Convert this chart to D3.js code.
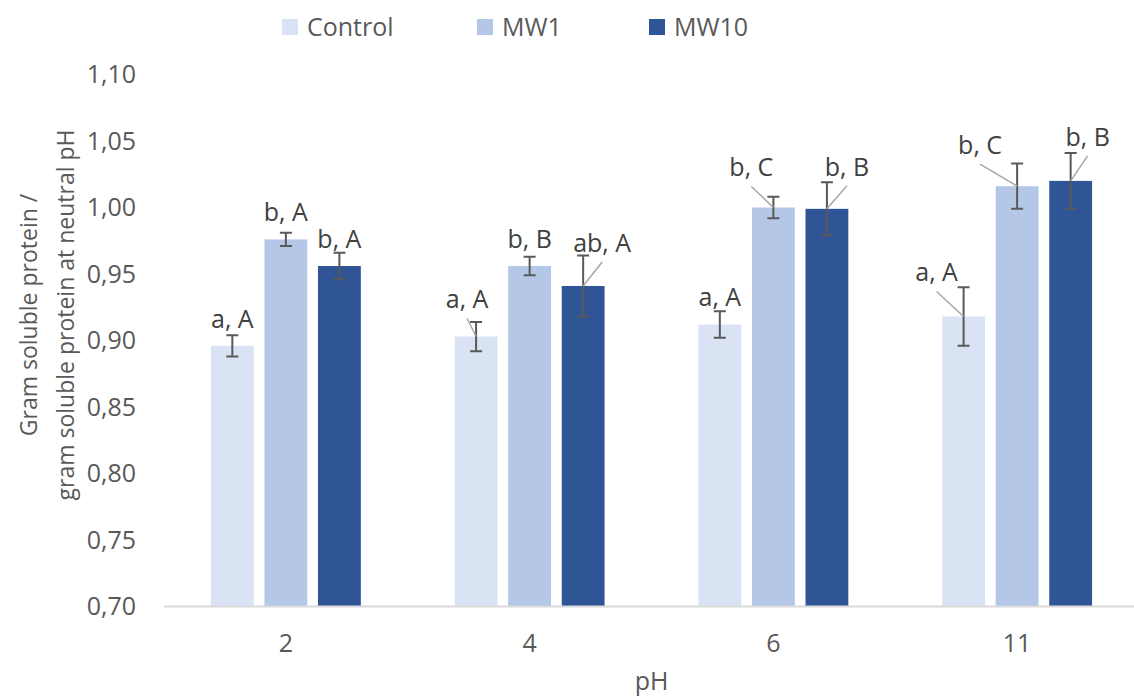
<!DOCTYPE html>
<html>
<head>
<meta charset="utf-8">
<script src="https://cdn.jsdelivr.net/npm/d3@7"></script>
<style>
    body { margin: 0; background: #ffffff; }
    svg { display: block; font-family: 'Open Sans', sans-serif; }
</style>
</head>
<body>
<svg></svg>
<script>
// Chart data
let categories = ['2', '4', '6', '11'];
let seriesNames = ['Control', 'MW1', 'MW10'];
let controlValues = [0.896, 0.903, 0.912, 0.918];
let mw1Values = [0.976, 0.956, 1.000, 1.016];
let mw10Values = [0.956, 0.941, 0.999, 1.020];
let controlErrors = [0.008, 0.011, 0.010, 0.022];
let mw1Errors = [0.005, 0.007, 0.008, 0.017];
let mw10Errors = [0.010, 0.023, 0.020, 0.021];
let controlLabels = ['a, A', 'a, A', 'a, A', 'a, A'];
let mw1Labels = ['b, A', 'b, B', 'b, C', 'b, C'];
let mw10Labels = ['b, A', 'ab, A', 'b, B', 'b, B'];
let yTicks = [0.70, 0.75, 0.80, 0.85, 0.90, 0.95, 1.00, 1.05, 1.10];

let colors = ['#dae3f3', '#b4c7e7', '#2f5597'];

// label nudges (px) for labels that were dragged away from their bar
let labelNudge = [
    [[0, 0], [0, 0], [0, 0]],
    [[-9, -10], [0, 0], [19, -16]],
    [[0, 0], [-22, -13], [20, -15]],
    [[-27, -17], [-37, -14], [17, -17]]
];

let width = 1134;
let height = 697;
let plotLeft = 164;
let plotRight = 1139;
let plotTop = 74.5;
let plotBottom = 606.5;

let svg = d3.select('svg')
    .attr('width', width)
    .attr('height', height);

let values = [controlValues, mw1Values, mw10Values];
let errors = [controlErrors, mw1Errors, mw10Errors];
let labels = [controlLabels, mw1Labels, mw10Labels];

// one record per bar
let rows = [];
categories.forEach((cat, i) => {
    seriesNames.forEach((name, s) => {
        rows.push({
            cat: cat,
            series: name,
            s: s,
            i: i,
            value: values[s][i],
            err: errors[s][i],
            label: labels[s][i],
            nudge: labelNudge[i][s]
        });
    });
});

// scales
let x0 = d3.scaleBand()
    .domain(categories)
    .range([plotLeft, plotRight])
    .paddingInner(0.385)
    .paddingOuter(0.1925);

let x1 = d3.scaleBand()
    .domain(seriesNames)
    .range([0, x0.bandwidth()])
    .paddingInner(0.2);

let y = d3.scaleLinear()
    .domain([0.70, 1.10])
    .range([plotBottom, plotTop]);

let barCenter = (d) => x0(d.cat) + x1(d.series) + x1.bandwidth() / 2;

// bars
svg.append('g')
    .selectAll('rect')
    .data(rows)
    .enter()
    .append('rect')
    .attr('x', (d) => x0(d.cat) + x1(d.series))
    .attr('y', (d) => y(d.value))
    .attr('width', x1.bandwidth())
    .attr('height', (d) => y(0.70) - y(d.value))
    .attr('fill', (d) => colors[d.s]);

// x axis line
let xAxis = d3.axisBottom(x0).tickSize(0).tickPadding(28);
let gx = svg.append('g')
    .attr('transform', `translate(0, ${plotBottom})`)
    .call(xAxis);
gx.select('.domain')
    .attr('d', `M${plotLeft},0H${width}`)
    .attr('stroke', '#d9d9d9')
    .attr('stroke-width', 2);
gx.selectAll('text')
    .attr('font-size', 25)
    .attr('fill', '#595959')
    .attr('font-family', "'Open Sans', sans-serif");

// y axis, labels only
let yAxis = d3.axisLeft(y)
    .tickValues(yTicks)
    .tickSize(0)
    .tickPadding(0)
    .tickFormat((d) => d3.format('.2f')(d).replace('.', ','));
let gy = svg.append('g')
    .attr('transform', 'translate(136, 0)')
    .call(yAxis);
gy.select('.domain').remove();
gy.selectAll('text')
    .attr('font-size', 25)
    .attr('fill', '#595959')
    .attr('font-family', "'Open Sans', sans-serif");

// error bars
let capHalf = 6;
let errG = svg.append('g')
    .attr('stroke', '#595959')
    .attr('stroke-width', 2)
    .attr('fill', 'none');
errG.selectAll('path')
    .data(rows)
    .enter()
    .append('path')
    .attr('d', (d) => {
        let cx = barCenter(d);
        let y1 = y(d.value + d.err);
        let y2 = y(d.value - d.err);
        return `M${cx - capHalf},${y1}H${cx + capHalf}M${cx},${y1}V${y2}M${cx - capHalf},${y2}H${cx + capHalf}`;
    });

// leader lines for moved labels
let moved = rows.filter((d) => d.nudge[0] !== 0 || d.nudge[1] !== 0);
svg.append('g')
    .selectAll('line')
    .data(moved)
    .enter()
    .append('line')
    .attr('x1', (d) => barCenter(d) + d.nudge[0])
    .attr('y1', (d) => y(d.value) - 27 + d.nudge[1] + 19)
    .attr('x2', (d) => barCenter(d))
    .attr('y2', (d) => y(d.value))
    .attr('stroke', '#a6a6a6')
    .attr('stroke-width', 1.5);

// significance labels
svg.append('g')
    .selectAll('text')
    .data(rows)
    .enter()
    .append('text')
    .attr('x', (d) => barCenter(d) + d.nudge[0])
    .attr('y', (d) => y(d.value) - 27 + d.nudge[1])
    .attr('dy', '0.35em')
    .attr('text-anchor', 'middle')
    .attr('font-size', 25)
    .attr('fill', '#404040')
    .text((d) => d.label);

// legend
let legendX = [282, 477, 649];
let legend = svg.append('g')
    .selectAll('g')
    .data(seriesNames)
    .enter()
    .append('g')
    .attr('transform', (d, i) => `translate(${legendX[i]}, 19)`);
legend.append('rect')
    .attr('width', 16)
    .attr('height', 16)
    .attr('fill', (d, i) => colors[i]);
legend.append('text')
    .attr('x', 25)
    .attr('y', 8)
    .attr('dy', '0.35em')
    .attr('font-size', 25)
    .attr('fill', '#595959')
    .text((d) => d);

// axis titles
svg.append('text')
    .attr('x', (plotLeft + plotRight) / 2)
    .attr('y', 690)
    .attr('text-anchor', 'middle')
    .attr('font-size', 25)
    .attr('fill', '#595959')
    .text('pH');

let yTitle = svg.append('text')
    .attr('transform', 'translate(37, 315) rotate(-90)')
    .attr('text-anchor', 'middle')
    .attr('font-size', 23)
    .attr('fill', '#595959');
yTitle.append('tspan')
    .attr('x', 0)
    .attr('y', 0)
    .text('Gram soluble protein /');
yTitle.append('tspan')
    .attr('x', 0)
    .attr('y', 37)
    .text('gram soluble protein at neutral pH');
</script>
</body>
</html>
